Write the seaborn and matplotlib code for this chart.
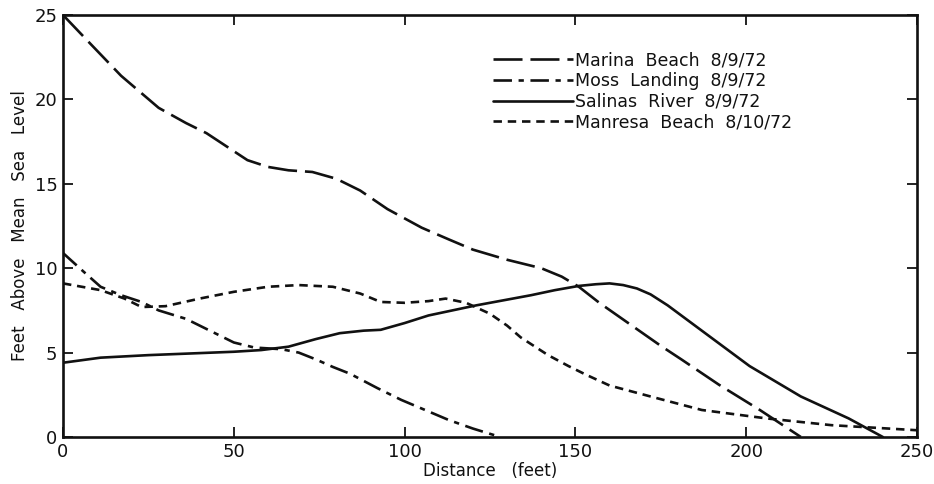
import numpy as np
import pandas as pd
import matplotlib
matplotlib.use("Agg")
import matplotlib.pyplot as plt
import seaborn as sns

# ---- data ----
marina_x = [0, 8, 17, 28, 36, 42, 48, 54, 60, 66, 73, 80, 87, 95, 105, 113, 120, 130, 140, 146, 151, 157, 163, 169, 175, 181, 192, 204, 216]
marina_y = [25.0, 23.3, 21.4, 19.5, 18.6, 18.0, 17.2, 16.4, 16.0, 15.8, 15.7, 15.3, 14.6, 13.5, 12.4, 11.7, 11.1, 10.5, 10.0, 9.5, 8.9, 7.95, 7.1, 6.25, 5.4, 4.6, 3.1, 1.6, 0.0]

moss_x = [0, 6, 11, 17, 23, 28, 36, 43, 50, 56, 64, 69, 74, 79, 84, 92, 99, 106, 113, 120, 128]
moss_y = [10.9, 9.8, 8.9, 8.4, 8.0, 7.5, 7.0, 6.3, 5.6, 5.3, 5.2, 5.0, 4.6, 4.15, 3.75, 2.9, 2.2, 1.6, 1.0, 0.5, 0.0]

salinas_x = [0, 11, 25, 40, 50, 58, 66, 74, 81, 88, 93, 100, 107, 114, 121, 129, 137, 144, 151, 156, 160, 164, 168, 172, 177, 187, 201, 216, 230, 240]
salinas_y = [4.4, 4.7, 4.85, 4.97, 5.05, 5.15, 5.35, 5.8, 6.15, 6.3, 6.35, 6.75, 7.2, 7.5, 7.8, 8.1, 8.4, 8.7, 8.95, 9.05, 9.1, 9.0, 8.8, 8.45, 7.8, 6.3, 4.2, 2.4, 1.1, 0.0]

manresa_x = [0, 11, 18, 23, 30, 40, 50, 60, 69, 79, 87, 93, 100, 107, 112, 118, 125, 130, 134, 142, 148, 153, 160, 172, 187, 206, 225, 250]
manresa_y = [9.1, 8.7, 8.2, 7.7, 7.75, 8.2, 8.6, 8.9, 9.0, 8.9, 8.5, 8.0, 7.95, 8.05, 8.2, 7.95, 7.3, 6.6, 5.9, 4.85, 4.2, 3.7, 3.05, 2.4, 1.6, 1.1, 0.7, 0.4]

labels = ["Marina  Beach  8/9/72", "Moss  Landing  8/9/72",
          "Salinas  River  8/9/72", "Manresa  Beach  8/10/72"]

frames = []
for lab, xs, ys in zip(labels, [marina_x, moss_x, salinas_x, manresa_x],
                       [marina_y, moss_y, salinas_y, manresa_y]):
    frames.append(pd.DataFrame({"Distance": xs, "Elevation": ys, "Site": lab}))
df = pd.concat(frames, ignore_index=True)

sns.set_style("ticks")
plt.rcParams["font.family"] = ["DejaVu Sans"]

fig = plt.figure(figsize=(9.34, 4.84), dpi=100)
ax = fig.add_axes([63/934, 1-437/484, (917-63)/934, (437-15)/484])

dashes = {labels[0]: (11, 3.0),
          labels[1]: (7, 2.5, 2, 2.5),
          labels[2]: "",
          labels[3]: (3.2, 2.2)}
palette = {l: "#111111" for l in labels}

sns.lineplot(data=df, x="Distance", y="Elevation", hue="Site", style="Site",
             dashes=dashes, palette=palette, linewidth=1.9, sort=False,
             estimator=None, ax=ax)

ax.set_xlim(0, 250)
ax.set_ylim(0, 25)
ax.set_xticks([0, 50, 100, 150, 200, 250])
ax.set_yticks([0, 5, 10, 15, 20, 25])
ax.tick_params(direction="in", length=7, width=1.3, top=True, right=True,
               labelsize=13, colors="#111111", pad=4)
for s in ax.spines.values():
    s.set_linewidth(1.9)
    s.set_color("#111111")

ax.set_xlabel("Distance   (feet)", fontsize=12, labelpad=1, color="#111111")
ax.set_ylabel("Feet   Above   Mean   Sea   Level", fontsize=12, labelpad=4, color="#111111")

leg = ax.legend(loc="upper left", bbox_to_anchor=(0.495, 0.93), frameon=False,
                fontsize=12.5, handlelength=4.6, handletextpad=0.15,
                labelspacing=0.15, borderaxespad=0)
for line in leg.get_lines():
    line.set_linewidth(1.9)
for t in leg.get_texts():
    t.set_color("#111111")

fig.savefig("out.png", dpi=100)
